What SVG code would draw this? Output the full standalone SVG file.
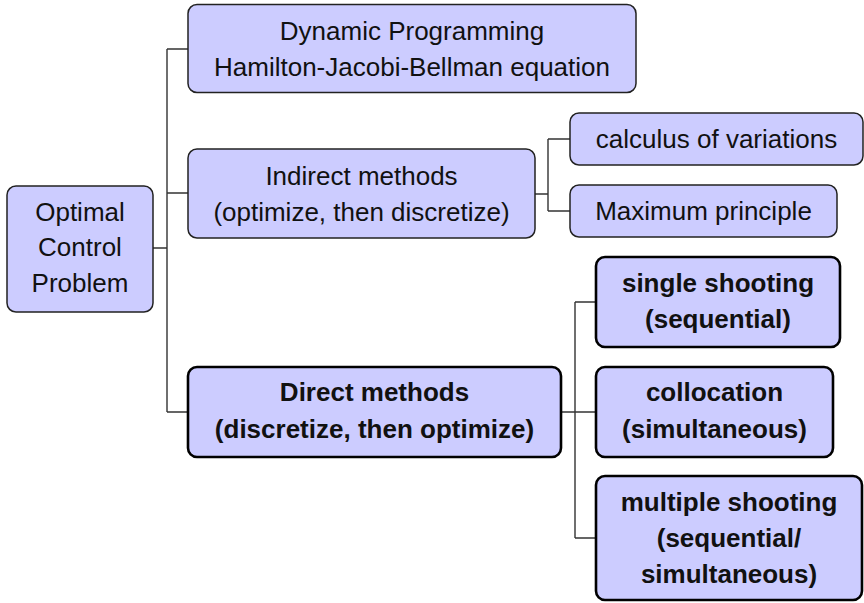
<svg xmlns="http://www.w3.org/2000/svg" width="864" height="603" viewBox="0 0 864 603">
  <style>
    .box { fill: #ccccff; stroke: #222; stroke-width: 1.5; }
    .box.strong { stroke: #000; stroke-width: 2.6; }
    .lbl { font-family: "Liberation Sans", Arial, Helvetica, sans-serif; font-size: 26px; fill: #111; text-anchor: middle; }
    .lbl.b { font-weight: bold; }
    .wire { fill: none; stroke: #333; stroke-width: 1.4; }
  </style>
  <rect width="864" height="603" fill="#fff"/>

  <!-- tree connectors -->
  <g id="connectors">
    <path class="wire" d="M153,248 H167 M167,49 V412 M167,49 H188 M167,193 H188 M167,412 H188"/>
    <path class="wire" d="M535,194 H548 M548,139 V211 M548,139 H570 M548,211 H570"/>
    <path class="wire" d="M561,412 H575 M575,302 V538 M575,302 H596 M575,412 H596 M575,538 H596"/>
  </g>

  <g id="ocp">
    <rect class="box" x="7" y="186" width="146" height="126" rx="9"/>
    <text class="lbl" x="80" y="221">Optimal</text>
    <text class="lbl" x="80" y="256">Control</text>
    <text class="lbl" x="80" y="292">Problem</text>
  </g>

  <g id="dp">
    <rect class="box" x="188" y="4.5" width="448" height="88" rx="9"/>
    <text class="lbl" x="412" y="40">Dynamic Programming</text>
    <text class="lbl" x="412" y="76">Hamilton-Jacobi-Bellman equation</text>
  </g>

  <g id="indirect">
    <rect class="box" x="188" y="149" width="347" height="89" rx="9"/>
    <text class="lbl" x="361.5" y="185">Indirect methods</text>
    <text class="lbl" x="361.5" y="221">(optimize, then discretize)</text>
  </g>

  <g id="calculus">
    <rect class="box" x="570" y="113" width="293" height="52" rx="9"/>
    <text class="lbl" x="716.5" y="148">calculus of variations</text>
  </g>

  <g id="maximum">
    <rect class="box" x="570" y="185" width="267" height="52" rx="9"/>
    <text class="lbl" x="703.5" y="220">Maximum principle</text>
  </g>

  <g id="direct">
    <rect class="box strong" x="188" y="367" width="373" height="90" rx="9"/>
    <text class="lbl b" x="374.5" y="401">Direct methods</text>
    <text class="lbl b" x="374.5" y="438">(discretize, then optimize)</text>
  </g>

  <g id="single">
    <rect class="box strong" x="596" y="257" width="244" height="90" rx="9"/>
    <text class="lbl b" x="718" y="292">single shooting</text>
    <text class="lbl b" x="718" y="328">(sequential)</text>
  </g>

  <g id="collocation">
    <rect class="box strong" x="596" y="367" width="237" height="90" rx="9"/>
    <text class="lbl b" x="714.5" y="401">collocation</text>
    <text class="lbl b" x="714.5" y="438">(simultaneous)</text>
  </g>

  <g id="multiple">
    <rect class="box strong" x="596" y="476" width="266" height="124" rx="9"/>
    <text class="lbl b" x="729" y="511">multiple shooting</text>
    <text class="lbl b" x="729" y="547">(sequential/</text>
    <text class="lbl b" x="729" y="583">simultaneous)</text>
  </g>
</svg>
